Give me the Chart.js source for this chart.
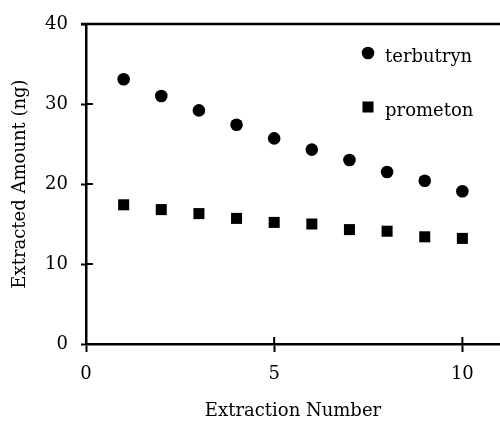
<!DOCTYPE html>
<html>
    <head>
        <title>Extraction</title>
        <script src="https://cdn.jsdelivr.net/npm/chart.js@4/dist/chart.umd.min.js"></script>
        <style>
            body { margin: 0; background: #fff; }
            canvas { display: block; }
        </style>
    </head>
    <body>
        <canvas id="chart1" width="500" height="422"></canvas>

        <script>
            // values
            const extraction = [1, 2, 3, 4, 5, 6, 7, 8, 9, 10]
            const terbutryn = [33.1, 31.0, 29.2, 27.4, 25.7, 24.3, 23.0, 21.5, 20.4, 19.1]
            const prometon = [17.4, 16.8, 16.3, 15.7, 15.2, 15.0, 14.3, 14.1, 13.4, 13.2]
            const xTicks = [0, 5, 10]
            const yTicks = [0, 10, 20, 30, 40]

            const font = { family: 'DejaVu Serif', size: 18 }

            const pts = ys => ys.map((y, i) => ({ x: extraction[i], y }))

            // inner tick marks, top frame line and the in-plot legend
            const frame = {
                id: 'frame',
                afterDraw(chart) {
                    const ctx = chart.ctx
                    const a = chart.chartArea
                    const sx = chart.scales.x
                    const sy = chart.scales.y
                    ctx.save()
                    ctx.strokeStyle = '#000'
                    ctx.lineWidth = 2.5
                    ctx.beginPath()
                    ctx.moveTo(a.left - 5, a.top)
                    ctx.lineTo(a.right, a.top)
                    ctx.stroke()
                    ctx.lineWidth = 2
                    ctx.beginPath()
                    xTicks.forEach(v => {
                        const px = sx.getPixelForValue(v)
                        ctx.moveTo(px, a.bottom)
                        ctx.lineTo(px, a.bottom - 7)
                    })
                    yTicks.slice(1, -1).forEach(v => {
                        const py = sy.getPixelForValue(v)
                        ctx.moveTo(a.left, py)
                        ctx.lineTo(a.left + 7, py)
                    })
                    ctx.stroke()

                    // legend
                    ctx.fillStyle = '#000'
                    ctx.font = font.size + 'px ' + font.family
                    ctx.textBaseline = 'alphabetic'
                    const rows = [53, 107]
                    chart.data.datasets.forEach((ds, i) => {
                        const cy = rows[i]
                        ctx.beginPath()
                        if (ds.pointStyle === 'rect') {
                            const s = ds.pointRadius * Math.SQRT1_2
                            ctx.rect(368 - s, cy - s, 2 * s, 2 * s)
                        } else {
                            ctx.arc(368, cy, ds.pointRadius, 0, Math.PI * 2)
                        }
                        ctx.fill()
                        ctx.fillText(ds.label, 385, cy + 9)
                    })
                    ctx.restore()
                },
            }

            const chart = new Chart(document.getElementById('chart1'), {
                type: 'scatter',
                data: {
                    datasets: [
                        {
                            label: 'terbutryn',
                            data: pts(terbutryn),
                            pointStyle: 'circle',
                            pointRadius: 6.3,
                            backgroundColor: '#000',
                            borderWidth: 0,
                        },
                        {
                            label: 'prometon',
                            data: pts(prometon),
                            pointStyle: 'rect',
                            pointRadius: 7.8,
                            backgroundColor: '#000',
                            borderWidth: 0,
                        },
                    ],
                },
                options: {
                    responsive: false,
                    animation: false,
                    layout: {
                        autoPadding: false,
                        padding: { top: 24, right: 0, left: 0, bottom: 0 },
                    },
                    plugins: {
                        legend: { display: false },
                        tooltip: { enabled: false },
                    },
                    scales: {
                        x: {
                            type: 'linear',
                            min: 0,
                            max: 11,
                            afterFit(s) {
                                s.height = 78
                                s.paddingLeft = 0
                                s.paddingRight = 0
                            },
                            ticks: {
                                stepSize: 5,
                                includeBounds: false,
                                color: '#000',
                                font,
                                padding: 12,
                            },
                            grid: {
                                drawOnChartArea: false,
                                tickLength: 8,
                                tickWidth: 2,
                                tickColor: '#000',
                            },
                            border: { color: '#000', width: 2.5 },
                            title: {
                                display: true,
                                text: 'Extraction Number',
                                color: '#000',
                                font,
                                padding: { top: 0, bottom: 0 },
                            },
                        },
                        y: {
                            min: 0,
                            max: 40,
                            afterFit(s) {
                                s.width = 86
                                s.paddingTop = 0
                                s.paddingBottom = 0
                            },
                            ticks: {
                                stepSize: 10,
                                color: '#000',
                                font,
                                padding: 13,
                            },
                            grid: {
                                drawOnChartArea: false,
                                tickLength: 5,
                                tickWidth: 2,
                                tickColor: '#000',
                            },
                            border: { color: '#000', width: 2.5 },
                            title: {
                                display: true,
                                text: 'Extracted Amount (ng)',
                                color: '#000',
                                font,
                                padding: { top: 10, bottom: 0 },
                            },
                        },
                    },
                },
                plugins: [frame],
            })
        </script>
    </body>
</html>
